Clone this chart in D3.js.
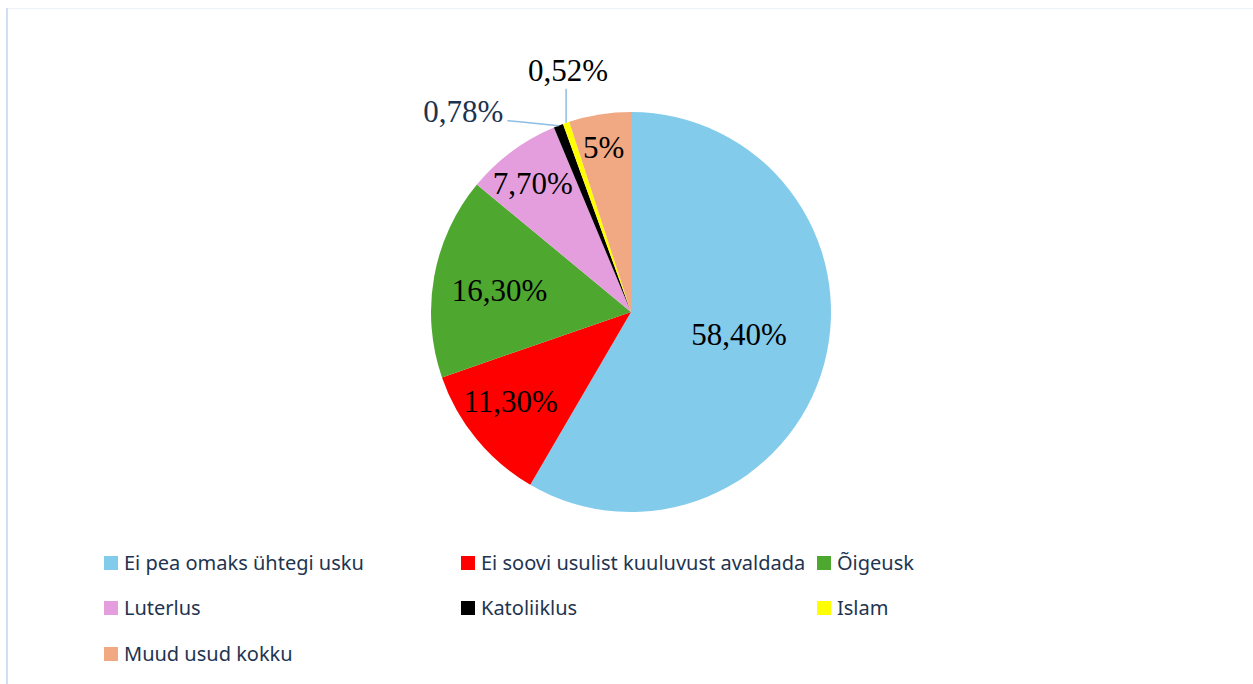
<!DOCTYPE html>
<html>
<head>
<meta charset="utf-8">
<script src="https://cdn.jsdelivr.net/npm/d3@7"></script>
<style>
  body { margin: 0; background: #fff; }
  svg { display: block; }
</style>
</head>
<body>
<svg width="1253" height="684"></svg>
<script>
// data
var categories = ['Ei pea omaks ühtegi usku', 'Ei soovi usulist kuuluvust avaldada', 'Õigeusk',
  'Luterlus', 'Katoliiklus', 'Islam', 'Muud usud kokku'];
var values = [58.4, 11.3, 16.3, 7.7, 0.78, 0.52, 5];
var labels = ['58,40%', '11,30%', '16,30%', '7,70%', '0,78%', '0,52%', '5%'];
var colors = ['#83cbeb', '#ff0000', '#4ea72e', '#e49edd', '#000000', '#ffff00', '#f1a983'];

// label placement: fraction of radius for the inside labels, plus a small nudge
var labelRadius = [0.56, 0.76, 0.67, 0.85, null, null, 0.83];
var labelNudge = [[0, -7.5], [-3, -7.5], [0.5, 2], [3, 7.5], null, null, [-1.5, -1]];

var svg = d3.select('svg');
var cx = 631, cy = 312, R = 200;

// faint frame
svg.append('line')
  .attr('x1', 6).attr('x2', 1253).attr('y1', 8.5).attr('y2', 8.5)
  .attr('stroke', '#ebf2fa').attr('stroke-width', 1);
svg.append('line')
  .attr('x1', 7).attr('x2', 7).attr('y1', 8).attr('y2', 684)
  .attr('stroke', '#cfe0f2').attr('stroke-width', 2);

var pie = d3.pie().sort(null).value(function(d) { return d; });
var arcs = pie(values);
var arc = d3.arc().innerRadius(0).outerRadius(R);

var g = svg.append('g').attr('transform', 'translate(' + [cx, cy] + ')');

g.selectAll('path.slice')
  .data(arcs).enter().append('path')
  .attr('class', 'slice')
  .attr('d', arc)
  .attr('fill', function(d, i) { return colors[i]; });

function polar(a, r) {
  return [r * Math.sin(a), -r * Math.cos(a)];
}
function mid(d) { return (d.startAngle + d.endAngle) / 2; }
function labelPos(d) {
  var p = polar(mid(d), R * labelRadius[d.index]);
  var n = labelNudge[d.index];
  return [p[0] + n[0], p[1] + n[1]];
}

// inside labels
g.selectAll('text.inlabel')
  .data(arcs.filter(function(d, i) { return labelRadius[i] != null; }))
  .enter().append('text')
  .attr('class', 'inlabel')
  .attr('x', function(d) { return labelPos(d)[0]; })
  .attr('y', function(d) { return labelPos(d)[1]; })
  .attr('dy', '0.35em')
  .attr('text-anchor', 'middle')
  .style('font-family', '"Liberation Serif", "Times New Roman", serif')
  .style('font-size', '31px')
  .attr('fill', '#000')
  .text(function(d) { return labels[d.index]; });

// leader lines for the thin slices
var leaderColor = '#8dbde3';
var kat = arcs[4], isl = arcs[5];

var p1 = polar(mid(kat), R);
var e1 = [p1[0] - 39, p1[1] - 4];
var t1 = [e1[0] - 12, e1[1] - 1];
g.append('polyline')
  .attr('points', [p1, e1, t1].map(function(p) { return p.join(','); }).join(' '))
  .attr('fill', 'none').attr('stroke', leaderColor).attr('stroke-width', 1.5);
g.append('text')
  .attr('x', t1[0] - 4).attr('y', t1[1] + 1)
  .attr('text-anchor', 'end')
  .style('font-family', '"Liberation Serif", "Times New Roman", serif')
  .style('font-size', '31px')
  .attr('fill', '#1c3350')
  .text(labels[4]);

var p2 = polar(mid(isl), R);
var e2 = [p2[0], p2[1] - 34];
g.append('line')
  .attr('x1', p2[0]).attr('y1', p2[1]).attr('x2', e2[0]).attr('y2', e2[1])
  .attr('stroke', leaderColor).attr('stroke-width', 1.5);
g.append('text')
  .attr('x', e2[0] + 2).attr('y', e2[1] - 8)
  .attr('text-anchor', 'middle')
  .style('font-family', '"Liberation Serif", "Times New Roman", serif')
  .style('font-size', '31px')
  .attr('fill', '#000')
  .text(labels[5]);

// legend
var colX = [104, 461, 817];
var rowY = [563, 608, 654];
var legend = svg.selectAll('g.legend')
  .data(categories).enter().append('g')
  .attr('class', 'legend')
  .attr('transform', function(d, i) {
    return 'translate(' + [colX[i % 3], rowY[Math.floor(i / 3)]] + ')';
  });
legend.append('rect')
  .attr('x', 0).attr('y', -7).attr('width', 14).attr('height', 14)
  .attr('fill', function(d, i) { return colors[i]; });
legend.append('text')
  .attr('x', 20).attr('y', 0).attr('dy', '0.35em')
  .style('font-family', '"Noto Sans", sans-serif')
  .style('font-size', '20px')
  .attr('fill', '#1e3450')
  .text(function(d) { return d; });
</script>
</body>
</html>
